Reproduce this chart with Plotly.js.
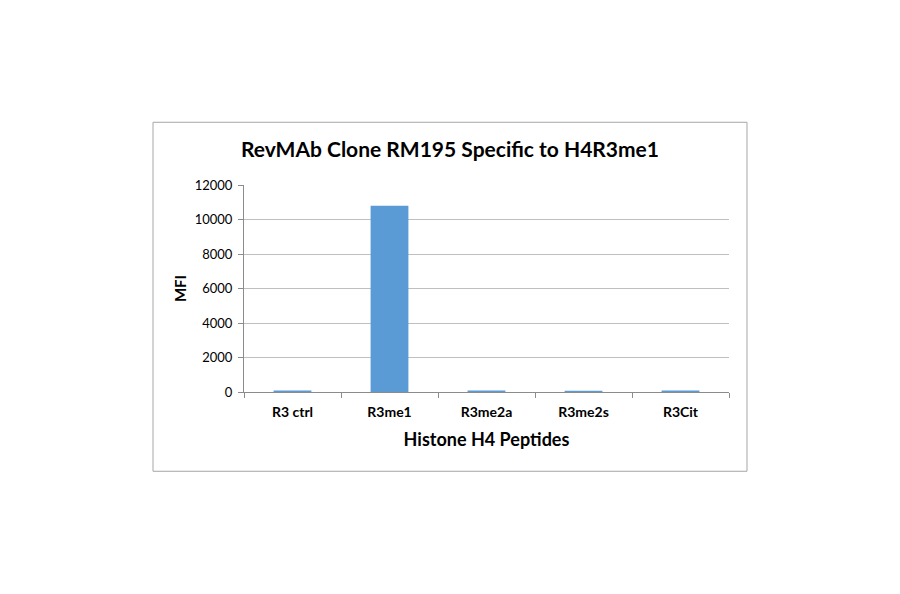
<!DOCTYPE html>
<html>
<head>
<meta charset="utf-8">
<script src="https://cdn.plot.ly/plotly-3.0.1.min.js"></script>
<style>
  html, body { margin: 0; padding: 0; background: #fff; }
  #chart { width: 900px; height: 594px; }
</style>
</head>
<body>
<div id="chart"></div>
<script>
"use strict";

// Data
var peptides = ["R3 ctrl", "R3me1", "R3me2a", "R3me2s", "R3Cit"]
var mfi = [80, 10800, 80, 75, 80]
var yTicks = [0, 2000, 4000, 6000, 8000, 10000, 12000]

var font = "Lato, 'Open Sans', sans-serif"

var trace = {
  x: peptides,
  y: mfi,
  type: "bar",
  marker: { color: "#5b9bd5" },
  hoverinfo: "x+y"
}

var layout = {
  width: 900,
  height: 594,
  margin: { l: 244, r: 171, t: 185, b: 202 },
  paper_bgcolor: "#fff",
  plot_bgcolor: "#fff",
  showlegend: false,
  bargap: 0.61,
  font: { family: font, color: "#000" },
  title: {
    text: "<b>RevMAb Clone RM195 Specific to H4R3me1</b>",
    font: { family: font, size: 21, color: "#000" },
    x: 0.5, xanchor: "center",
    y: 1 - 150 / 594, yanchor: "middle"
  },
  xaxis: {
    title: {
      text: "<b>Histone H4 Peptides</b>",
      font: { family: font, size: 18, color: "#000" },
      standoff: 14
    },
    tickfont: { family: font, size: 14, color: "#000" },
    tickprefix: "<b>", ticksuffix: "</b>",
    ticklabelstandoff: 7,
    showline: true, linecolor: "#8c8c8c", linewidth: 1,
    ticks: "outside", tickson: "boundaries", ticklen: 5, tickcolor: "#8c8c8c",
    showgrid: false
  },
  yaxis: {
    title: {
      text: "<b>MFI</b>",
      font: { family: font, size: 15, color: "#000" },
      standoff: 4
    },
    range: [0, 12000],
    tickvals: yTicks,
    ticktext: yTicks.map(String),
    tickfont: { family: font, size: 13, color: "#000" },
    ticklabelstandoff: 3,
    showline: true, linecolor: "#8c8c8c", linewidth: 1,
    ticks: "outside", ticklen: 5, tickcolor: "#8c8c8c",
    showgrid: true, gridcolor: "#bfbfbf", gridwidth: 1,
    zeroline: false
  },
  shapes: [{
    type: "rect", xref: "paper", yref: "paper",
    x0: -0.1876, x1: 1.0371, y0: -0.383, y1: 1.303,
    line: { color: "#a6a6a6", width: 1 },
    fillcolor: "rgba(0,0,0,0)",
    layer: "below"
  }]
}

Plotly.newPlot("chart", [trace], layout, { displayModeBar: false, staticPlot: true })
</script>
</body>
</html>
